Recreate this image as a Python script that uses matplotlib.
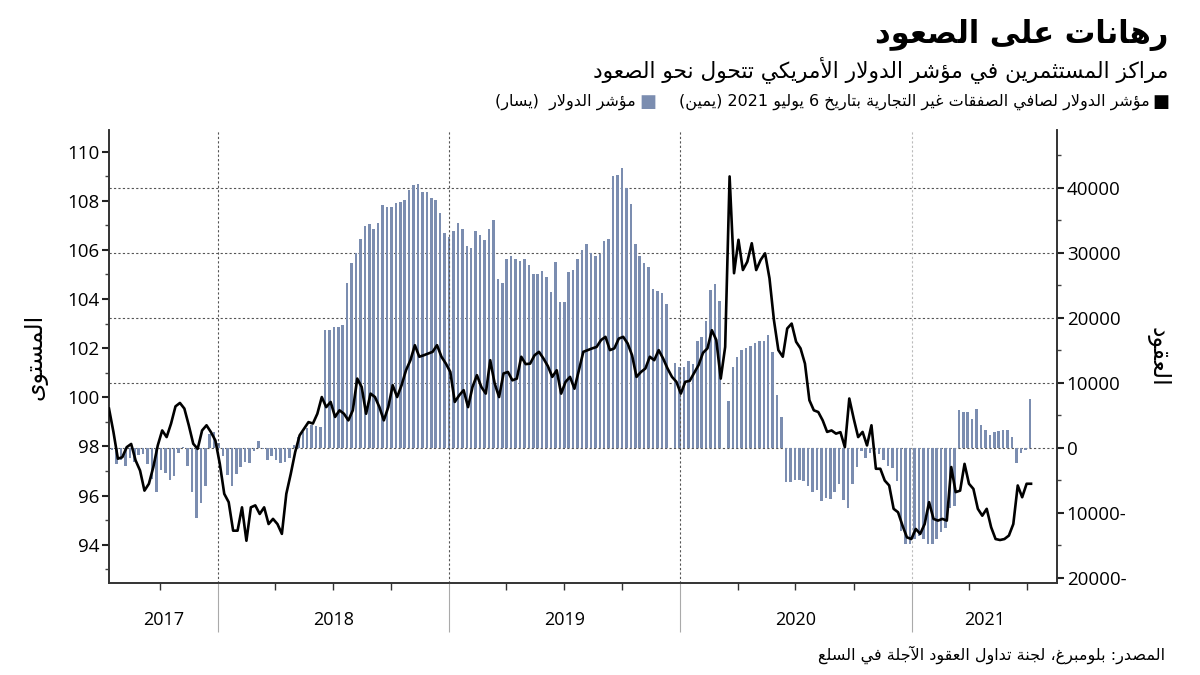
import re
import numpy as np
import pandas as pd
import matplotlib
matplotlib.use("Agg")
import matplotlib.pyplot as plt
import matplotlib.dates as mdates
from matplotlib.ticker import FuncFormatter, MultipleLocator

# --- data ---
# weekly net non-commercial positions, thousands of contracts (right axis)
pos_start = "2017-07-18"
net_pos_k = [
    -0.3, -2.5, -1.8, -2.8, -1.6, -2.2, -1.1, -0.9, -2.4, -4.7,
    -6.7, -3.4, -3.9, -4.9, -4.3, -0.8, 0.2, -2.8, -6.7, -10.7,
    -8.5, -5.8, 2.2, 2.4, 0.7, -1.3, -4.2, -5.9, -4.0, -2.9,
    -2.1, -2.3, -0.5, 1.0, -0.2, -1.8, -1.3, -1.8, -2.3, -2.1,
    -1.6, 0.5, 1.7, 2.5, 3.0, 3.5, 3.3, 3.2, 18.1, 18.2,
    18.6, 18.6, 18.9, 25.3, 28.5, 30.0, 32.1, 34.1, 34.5, 33.6,
    34.6, 37.4, 37.0, 37.0, 37.7, 37.9, 38.1, 39.6, 40.4, 40.6,
    39.3, 39.3, 38.5, 38.2, 36.2, 33.0, 32.4, 33.3, 34.6, 33.6,
    31.1, 30.8, 33.3, 32.8, 32.0, 33.7, 35.1, 26.0, 25.3, 29.0,
    29.5, 29.0, 28.8, 29.0, 28.2, 26.7, 26.7, 27.2, 26.3, 24.0,
    28.6, 22.4, 22.4, 27.0, 27.3, 29.1, 30.4, 31.3, 30.0, 29.5,
    29.9, 31.8, 32.1, 41.8, 42.0, 43.1, 40.0, 37.5, 31.3, 29.5,
    28.4, 27.8, 24.5, 24.1, 23.9, 22.2, np.nan, 13.1, 12.4, 12.5,
    13.3, 12.9, 16.4, 17.0, 19.5, 24.3, 25.2, 22.6, np.nan, 7.2,
    12.5, 14.0, 15.1, 15.3, 15.7, 16.1, 16.5, 16.5, 17.4, 14.8,
    8.2, 4.7, -5.3, -5.2, -5.0, -5.0, -5.1, -5.8, -6.7, -6.4,
    -8.2, -7.7, -7.8, -6.7, -5.6, -8.0, -9.2, -5.5, -3.0, -0.5,
    -1.5, -0.8, -0.3, -1.0, -1.8, -2.8, -3.1, -5.1, -12.8, -14.8,
    -14.7, -14.0, -13.5, -14.0, -14.7, -14.8, -14.0, -12.9, -12.3, -9.2,
    -8.9, 5.8, 5.5, 5.6, 4.4, 6.0, 3.5, 2.8, 2.0, 2.5,
    2.6, 2.8, 2.8, 1.7, -2.3, -0.7, -0.3, 7.5,
]

# weekly dollar index level (left axis)
dxy_start = "2017-07-13"
dxy = [
    99.54, 98.59, 97.5, 97.56, 97.97, 98.1, 97.43, 97.02, 96.2, 96.48,
    97.16, 98.04, 98.65, 98.38, 98.93, 99.63, 99.77, 99.54, 98.86, 98.11,
    97.9, 98.65, 98.86, 98.58, 98.24, 97.29, 96.07, 95.73, 94.57, 94.57,
    95.52, 94.16, 95.52, 95.6, 95.25, 95.52, 94.84, 95.05, 94.84, 94.44,
    96.07, 96.88, 97.77, 98.45, 98.72, 98.99, 98.93, 99.33, 100.01, 99.6,
    99.81, 99.2, 99.47, 99.33, 99.06, 99.47, 100.76, 100.42, 99.33, 100.15,
    100.01, 99.6, 99.06, 99.6, 100.49, 100.01, 100.49, 101.1, 101.51, 102.12,
    101.65, 101.71, 101.78, 101.85, 102.12, 101.65, 101.37, 101.03, 99.81, 100.08,
    100.29, 99.6, 100.42, 100.9, 100.42, 100.15, 101.51, 100.56, 100.01, 100.97,
    101.03, 100.69, 100.76, 101.65, 101.35, 101.37, 101.71, 101.85, 101.58, 101.27,
    100.83, 101.1, 100.15, 100.63, 100.83, 100.35, 101.1, 101.85, 101.92, 101.99,
    102.05, 102.33, 102.46, 101.92, 101.99, 102.39, 102.46, 102.19, 101.71, 100.83,
    101.03, 101.17, 101.65, 101.51, 101.92, 101.58, 101.17, 100.83, 100.63, 100.15,
    100.63, 100.67, 100.99, 101.31, 101.81, 101.99, 102.73, 102.33, 100.76, 102.05,
    108.99, 105.05, 106.41, 105.18, 105.52, 106.27, 105.18, 105.59, 105.86, 104.84,
    103.14, 101.92, 101.65, 102.8, 103.0, 102.26, 101.99, 101.37, 99.88, 99.47,
    99.4, 99.06, 98.59, 98.65, 98.52, 98.58, 97.97, 99.95, 99.13, 98.38,
    98.59, 98.04, 98.86, 97.09, 97.09, 96.61, 96.41, 95.46, 95.32, 94.78,
    94.3, 94.23, 94.64, 94.44, 94.84, 95.73, 95.05, 94.98, 95.05, 94.98,
    97.16, 96.14, 96.2, 97.29, 96.48, 96.27, 95.46, 95.18, 95.46, 94.71,
    94.23, 94.19, 94.23, 94.37, 94.84, 96.41, 95.93, 96.48, 96.48,
]

years = [2017, 2018, 2019, 2020, 2021]

title = "رهانات على الصعود"
subtitle = "مراكز المستثمرين في مؤشر الدولار الأمريكي تتحول نحو الصعود"
legend_line = "مؤشر الدولار لصافي الصفقات غير التجارية بتاريخ 6 يوليو 2021 (يمين)"
legend_bar = "مؤشر الدولار  (يسار)"
left_label = "المستوى"
right_label = "العقود"
source = "المصدر: بلومبرغ، لجنة تداول العقود الآجلة في السلع"

# --- minimal arabic shaping (matplotlib has no bidi / joining) ---
DUAL = {'ئ': 0xFE89, 'ب': 0xFE8F, 'ت': 0xFE95, 'ث': 0xFE99, 'ج': 0xFE9D,
        'ح': 0xFEA1, 'خ': 0xFEA5, 'س': 0xFEB1, 'ش': 0xFEB5, 'ص': 0xFEB9,
        'ض': 0xFEBD, 'ط': 0xFEC1, 'ظ': 0xFEC5, 'ع': 0xFEC9, 'غ': 0xFECD,
        'ف': 0xFED1, 'ق': 0xFED5, 'ك': 0xFED9, 'ل': 0xFEDD, 'م': 0xFEE1,
        'ن': 0xFEE5, 'ه': 0xFEE9, 'ي': 0xFEF1}
RIGHT = {'آ': 0xFE81, 'أ': 0xFE83, 'ؤ': 0xFE85, 'إ': 0xFE87, 'ا': 0xFE8D,
         'ة': 0xFE93, 'د': 0xFEA9, 'ذ': 0xFEAB, 'ر': 0xFEAD, 'ز': 0xFEAF,
         'و': 0xFEED, 'ى': 0xFEEF}
LAM_ALEF = {'آ': 0xFEF5, 'أ': 0xFEF7, 'إ': 0xFEF9, 'ا': 0xFEFB}


def shape(text):
    out = []
    prev = False
    i = 0
    while i < len(text):
        c = text[i]
        nxt = text[i + 1] if i + 1 < len(text) else ''
        if c == 'ل' and nxt in LAM_ALEF:
            out.append(chr(LAM_ALEF[nxt] + (1 if prev else 0)))
            prev = False
            i += 2
            continue
        if c in DUAL or c in RIGHT:
            base = DUAL.get(c, RIGHT.get(c))
            to_next = c in DUAL and (nxt in DUAL or nxt in RIGHT)
            form = {(False, False): 0, (True, False): 1,
                    (False, True): 2, (True, True): 3}[(prev, to_next)]
            out.append(chr(base + form))
            prev = to_next
        else:
            out.append('\uFE80' if c == 'ء' else c)
            prev = False
        i += 1
    return ''.join(out)


def ar(text):
    runs = re.findall(r'[0-9A-Za-z.%]+|.', shape(text))
    flip = {'(': ')', ')': '('}
    return ''.join(flip.get(r, r) for r in runs[::-1])


AR = ['DejaVu Sans']
NUM = ['Open Sans', 'DejaVu Sans']

pos_dates = pd.date_range(pos_start, periods=len(net_pos_k), freq="7D")
dxy_dates = pd.date_range(dxy_start, periods=len(dxy), freq="7D")
net_pos = np.array(net_pos_k) * 1000

bar_color = "#7b8db0"
grid_color = "#555555"

fig = plt.figure(figsize=(12, 6.75), dpi=100)
ax = fig.add_axes([109 / 1200, 1 - 583 / 675, 948 / 1200, 453 / 675])
axb = ax.twinx()
ax.set_zorder(axb.get_zorder() + 1)
ax.patch.set_visible(False)

# bars on the right scale
axb.bar(pos_dates, net_pos, width=4, color=bar_color, zorder=2)
axb.set_ylim(-20770, 48900)
axb.yaxis.set_major_locator(MultipleLocator(10000))
axb.yaxis.set_minor_locator(MultipleLocator(5000))
axb.yaxis.set_major_formatter(FuncFormatter(
    lambda v, p: f"{abs(int(v))}-" if v < 0 else f"{int(v)}"))
for v in axb.get_yticks():
    if 0 <= v <= 40000:
        axb.axhline(v, color=grid_color, lw=0.8, ls=(0, (2, 2)), zorder=0)

# line on the left scale
ax.plot(dxy_dates, dxy, color="black", lw=1.9, zorder=3)
ax.set_ylim(92.44, 110.88)
ax.yaxis.set_major_locator(MultipleLocator(2))
ax.yaxis.set_minor_locator(MultipleLocator(1))

ax.set_xlim(pd.Timestamp("2017-07-13"), pd.Timestamp("2021-08-18"))
ax.xaxis.set_major_locator(mdates.YearLocator())
ax.xaxis.set_minor_locator(mdates.MonthLocator(bymonth=[1, 4, 7, 10]))
ax.xaxis.set_major_formatter(plt.NullFormatter())
for y in years[1:]:
    ax.axvline(pd.Timestamp(f"{y}-01-01"), lw=0.8, ls=(0, (2, 2)),
               color="#bbbbbb" if y == years[-1] else grid_color)
ax.tick_params(axis='x', which='major', length=35, color="#aaaaaa", width=0.8)
ax.tick_params(axis='x', which='minor', length=5, color="#333333", width=1)

for a in (ax, axb):
    a.spines['top'].set_visible(False)
    for s in ('left', 'right', 'bottom'):
        a.spines[s].set_color("#333333")
        a.spines[s].set_linewidth(1.2)

ax.tick_params(axis='y', which='major', length=5, width=1.5, color="#222222",
               labelsize=13.5, pad=2)
ax.tick_params(axis='y', which='minor', length=3, width=1, color="#444444")
axb.tick_params(axis='y', which='major', length=5, width=1.5, color="#222222",
                labelsize=13.5, pad=2)
axb.tick_params(axis='y', which='minor', length=3, width=1, color="#444444")
for lab in ax.get_yticklabels() + axb.get_yticklabels():
    lab.set_family(NUM)

# year labels centred in each visible year span
x0, x1 = ax.get_xlim()
for y in years:
    a = max(mdates.date2num(pd.Timestamp(f"{y}-01-01")), x0)
    b = min(mdates.date2num(pd.Timestamp(f"{y + 1}-01-01")), x1)
    ax.text((a + b) / 2, -0.082, str(y), transform=ax.get_xaxis_transform(),
            ha='center', va='center', fontsize=13, family=NUM)

ax.set_ylabel(ar(left_label), family=AR, fontsize=17, labelpad=14)
axb.set_ylabel(ar(right_label), family=AR, fontsize=17, rotation=270,
               labelpad=31)

fig.text(1168 / 1200, 1 - 35 / 675, ar(title), ha='right', va='center',
         fontsize=22, fontweight='bold', family=AR)
fig.text(1168 / 1200, 1 - 70 / 675, ar(subtitle), ha='right', va='center',
         fontsize=15.7, family=AR)
fig.text(1161 / 1200, 1 - 102 / 675, "\u25A0", ha='center', va='center',
         fontsize=13, color="black", family=AR)
fig.text(1150 / 1200, 1 - 102 / 675, ar(legend_line), ha='right', va='center',
         fontsize=11.5, family=AR)
fig.text(648 / 1200, 1 - 102 / 675, "\u25A0", ha='center', va='center',
         fontsize=13, color=bar_color, family=AR)
fig.text(636 / 1200, 1 - 102 / 675, ar(legend_bar), ha='right', va='center',
         fontsize=11.5, family=AR)
fig.text(1165 / 1200, 1 - 655 / 675, ar(source), ha='right', va='center',
         fontsize=11.5, family=AR)

fig.savefig("out.png", dpi=100)
plt.close(fig)
